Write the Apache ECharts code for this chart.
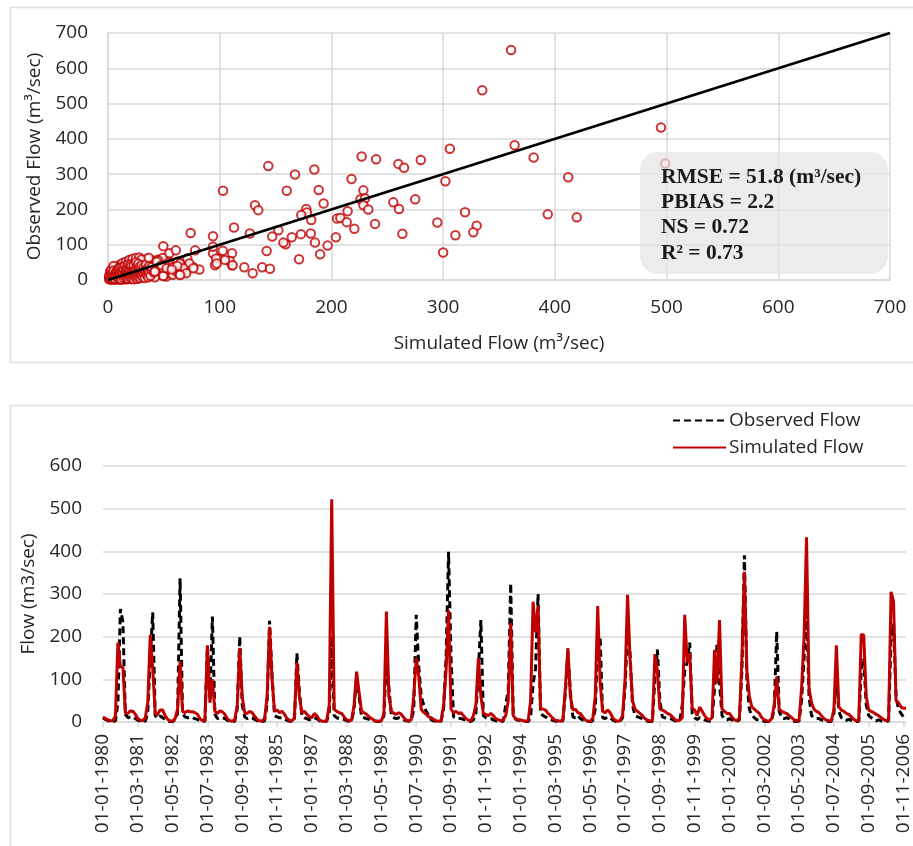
<!DOCTYPE html>
<html>
<head>
<meta charset="utf-8">
<script src="https://cdn.jsdelivr.net/npm/echarts@6/dist/echarts.min.js"></script>
<style>
  html, body { margin: 0; padding: 0; background: #ffffff; }
  #chart { width: 913px; height: 846px; }
</style>
</head>
<body>
<div id="chart"></div>
<script>
// ---------- Scatter: simulated vs observed flow (m3/sec), [simulated, observed] ----------
const scatterHigh = [
  [360.8, 652], [335, 538], [495, 432], [498.7, 330], [364, 382], [381, 347], [412, 291],
  [319.6, 192], [393.6, 186], [419.6, 178], [330, 154], [327, 135], [311, 127], [306, 372],
  [302, 280], [300, 78], [294.8, 163], [143.5, 323], [167.4, 299], [184.7, 313], [227, 350],
  [240, 342], [260, 329], [265, 318], [280, 340], [218, 286], [228.6, 254], [226, 229],
  [230, 231], [228.6, 212], [233, 200], [255.4, 220], [260.5, 201], [275, 229], [263.5, 131],
  [239, 159], [214.5, 195], [205, 174], [208, 176], [213.7, 164], [220.5, 145], [204, 121],
  [196.6, 98], [193, 217], [188.6, 255], [160, 253], [177.5, 201], [178, 191], [173, 184],
  [182, 170], [181.5, 132], [185.3, 106], [189.9, 73], [171, 59], [172.7, 130], [164.5, 121],
  [159, 101], [157, 106], [152.5, 141], [147, 123], [142, 82], [138, 36], [145, 32],
  [131.6, 212], [134.5, 198], [127, 132], [129.5, 19], [122, 36], [103, 253], [112.8, 149],
  [111, 76], [111, 42], [109, 54], [102.7, 83], [98.7, 61], [94, 124], [94, 76], [95.8, 42],
  [94, 94], [74, 133], [78, 84], [81.8, 30], [76.4, 36], [70, 28], [65, 17], [49.5, 96],
  [55, 76], [60.7, 84], [49.5, 13], [36.5, 63], [45, 55], [54, 49], [64.5, 47], [71, 61],
  [72.8, 47], [96.7, 61], [104.7, 57], [111.6, 42], [97.3, 47], [49.5, 33], [52, 39],
  [67.4, 33], [64.5, 16], [70, 19], [76.4, 33], [49.5, 11], [42, 24], [43.6, 52], [48, 42],
  [52.5, 33], [58, 36], [62, 40], [64.5, 14], [57, 30]
];
const scatterLow = [
  [2, 3], [3, 8], [4, 14], [5, 20], [5, 2], [6, 10], [6, 26], [7, 5], [7, 17], [8, 12],
  [8, 30], [9, 3], [9, 22], [10, 8], [10, 15], [10, 34], [11, 26], [11, 5], [12, 12], [12, 20],
  [12, 38], [13, 3], [13, 28], [14, 9], [14, 17], [14, 42], [15, 24], [15, 33], [15, 6], [16, 13],
  [16, 38], [17, 20], [17, 46], [17, 2], [18, 28], [18, 10], [18, 35], [19, 16], [19, 42], [20, 24],
  [20, 5], [20, 50], [21, 31], [21, 12], [22, 38], [22, 20], [22, 46], [23, 8], [23, 27], [24, 34],
  [24, 52], [24, 16], [25, 42], [25, 22], [26, 10], [26, 30], [26, 48], [27, 37], [27, 18], [28, 55],
  [28, 26], [29, 44], [29, 12], [30, 33], [30, 20], [31, 50], [31, 40], [32, 28], [33, 45], [33, 15],
  [34, 35], [35, 52], [35, 24], [36, 42], [37, 30], [38, 48], [38, 20], [40, 38], [40, 55], [42, 28],
  [43, 45], [44, 35], [46, 22], [47, 40], [48, 30], [50, 45], [52, 25], [53, 55], [56, 35], [58, 28],
  [60, 40], [62, 52], [3, 1], [4, 6], [6, 1], [8, 2], [11, 1], [14, 2], [2, 10], [3, 18],
  [4, 24], [5, 30], [7, 34], [9, 40], [11, 44], [13, 48], [16, 52], [19, 57], [22, 60], [25, 62],
  [28, 64], [1, 2], [1, 6], [2, 15], [3, 22], [6, 18], [8, 6], [10, 2], [12, 7], [16, 4],
  [19, 8], [21, 3], [24, 6], [27, 4], [30, 8], [34, 10], [37, 12], [40, 16], [44, 14], [48, 18],
  [52, 10], [55, 20], [58, 15], [62, 22], [66, 30], [68, 38], [45, 58], [49, 62], [35, 60], [30, 58],
  [42, 8], [1, 12], [2, 25], [4, 32], [6, 36], [3, 28], [5, 40],
  [2, 6], [3, 12], [4, 4], [4, 18], [5, 9], [5, 26], [6, 14], [6, 4], [7, 22], [7, 11],
  [8, 18], [8, 25], [9, 7], [9, 14], [9, 32], [10, 20], [10, 27], [11, 10], [11, 17], [11, 35],
  [12, 2], [12, 25], [13, 14], [13, 22], [13, 36], [14, 6], [14, 30], [15, 12], [15, 18], [15, 40],
  [16, 8], [16, 22], [16, 30], [17, 14], [17, 26], [17, 36], [18, 4], [18, 20], [18, 44], [19, 10],
  [19, 24], [19, 32], [20, 14], [20, 38], [20, 44], [21, 8], [21, 22], [21, 40], [22, 14], [22, 28],
  [23, 2], [23, 18], [23, 34], [23, 42], [24, 10], [24, 26], [25, 14], [25, 32], [25, 50], [26, 4],
  [26, 20], [26, 38], [27, 10], [27, 28], [27, 46], [28, 16], [28, 36], [29, 6], [29, 22], [29, 30],
  [30, 14], [30, 42], [31, 10], [31, 24], [32, 18], [32, 36], [33, 6], [33, 26], [34, 20], [34, 44],
  [35, 14], [35, 32], [36, 8], [36, 26], [37, 20], [37, 40], [38, 12], [39, 28], [39, 36], [41, 22]
];
// 1:1 reference line end points
const oneToOne = [0, 700];

// ---------- Monthly flow series, Jan 1980 - Dec 2006 (m3/sec) ----------
const startYear = 1980;
const endYear = 2006;
const observedFlow = [
  10, 6, 3, 2, 1, 3, 45, 265, 235, 18, 10, 12,      // 1980
  12, 8, 4, 2, 1, 2, 20, 150, 257, 15, 8, 14,       // 1981
  10, 6, 3, 1, 1, 5, 20, 337, 20, 12, 10, 12,       // 1982
  10, 8, 6, 3, 1, 2, 177, 55, 247, 18, 8, 10,       // 1983
  10, 8, 4, 2, 1, 2, 30, 201, 40, 12, 8, 10,        // 1984
  10, 6, 3, 1, 1, 3, 40, 237, 110, 15, 12, 10,      // 1985
  10, 7, 4, 2, 1, 3, 161, 70, 15, 10, 8, 5,         // 1986
  8, 10, 8, 3, 1, 1, 2, 20, 200, 15, 10, 8,         // 1987
  8, 6, 3, 2, 3, 30, 110, 60, 12, 10, 8, 6,         // 1988
  4, 3, 2, 1, 2, 15, 150, 80, 15, 10, 8, 10,        // 1989
  8, 5, 3, 2, 3, 30, 251, 130, 60, 40, 25, 15,      // 1990
  5, 3, 2, 1, 2, 30, 150, 399, 150, 12, 10, 8,      // 1991
  8, 6, 4, 2, 1, 5, 20, 120, 239, 15, 10, 8,        // 1992
  8, 5, 3, 2, 1, 2, 40, 75, 325, 20, 6, 4,          // 1993
  4, 3, 2, 1, 10, 90, 125, 300, 20, 15, 12, 8,      // 1994
  6, 4, 2, 2, 1, 3, 70, 165, 70, 12, 10, 15,        // 1995
  8, 5, 2, 1, 1, 3, 30, 180, 195, 10, 8, 12,        // 1996
  10, 5, 2, 1, 1, 10, 80, 212, 160, 40, 15, 12,     // 1997
  10, 8, 5, 2, 1, 2, 100, 170, 50, 12, 10, 8,       // 1998
  8, 6, 3, 2, 2, 40, 120, 140, 186, 20, 10, 6,      // 1999
  10, 8, 5, 3, 2, 5, 80, 185, 90, 15, 8, 5,         // 2000
  8, 5, 2, 1, 5, 120, 391, 100, 30, 15, 10, 5,      // 2001
  5, 3, 2, 1, 1, 5, 30, 212, 25, 10, 8, 10,         // 2002
  8, 5, 2, 1, 3, 50, 150, 265, 60, 15, 10, 8,       // 2003
  8, 5, 3, 2, 1, 2, 20, 110, 25, 10, 5, 4,          // 2004
  6, 4, 2, 1, 2, 120, 149, 40, 15, 10, 5, 3,        // 2005
  5, 3, 2, 1, 3, 200, 230, 60, 30, 20, 12, 10       // 2006
];
const simulatedFlow = [
  12, 8, 5, 3, 3, 15, 186, 130, 128, 22, 20, 26,    // 1980
  25, 18, 8, 4, 3, 10, 45, 204, 125, 20, 18, 28,    // 1981
  28, 15, 6, 3, 2, 8, 30, 141, 25, 22, 26, 24,      // 1982
  24, 22, 18, 8, 3, 3, 180, 45, 100, 25, 20, 26,    // 1983
  24, 18, 8, 3, 2, 5, 40, 174, 60, 22, 20, 25,      // 1984
  22, 14, 6, 3, 2, 8, 60, 223, 100, 25, 28, 22,     // 1985
  25, 18, 8, 4, 2, 10, 140, 60, 22, 25, 18, 12,     // 1986
  10, 20, 15, 5, 2, 2, 3, 40, 522, 30, 25, 22,      // 1987
  20, 12, 5, 3, 4, 40, 118, 70, 25, 22, 18, 12,     // 1988
  8, 4, 2, 2, 3, 20, 259, 60, 25, 20, 18, 22,       // 1989
  18, 10, 4, 3, 5, 60, 150, 108, 30, 22, 18, 12,    // 1990
  10, 6, 3, 2, 3, 40, 120, 262, 30, 22, 25, 20,     // 1991
  22, 15, 8, 4, 3, 15, 40, 150, 60, 20, 18, 15,     // 1992
  20, 15, 8, 5, 3, 5, 15, 50, 232, 15, 8, 5,        // 1993
  5, 3, 2, 2, 50, 282, 210, 272, 32, 30, 28, 20,    // 1994
  15, 8, 4, 3, 2, 5, 80, 173, 60, 28, 30, 22,       // 1995
  20, 12, 5, 2, 2, 8, 60, 272, 90, 25, 22, 28,      // 1996
  22, 10, 4, 2, 3, 15, 100, 298, 150, 50, 30, 25,   // 1997
  20, 15, 8, 4, 3, 3, 159, 120, 30, 28, 25, 20,     // 1998
  18, 12, 6, 3, 4, 10, 251, 140, 161, 32, 28, 15,   // 1999
  35, 25, 15, 8, 5, 10, 169, 90, 239, 30, 25, 20,   // 2000
  20, 12, 5, 3, 10, 150, 352, 120, 60, 35, 30, 25,  // 2001
  20, 10, 5, 3, 2, 8, 40, 106, 30, 25, 22, 20,      // 2002
  15, 10, 5, 3, 5, 80, 200, 433, 80, 45, 30, 25,    // 2003
  22, 15, 8, 4, 3, 3, 30, 180, 35, 28, 25, 20,      // 2004
  18, 12, 6, 3, 3, 205, 204, 60, 28, 25, 22, 18,    // 2005
  15, 10, 6, 3, 5, 305, 282, 50, 45, 35, 32, 32     // 2006
];

// Statistics shown in the summary box
const statLines = ['RMSE = 51.8 (m\u00B3/sec)', 'PBIAS = 2.2', 'NS = 0.72', 'R\u00B2 = 0.73'];

// Month category labels (dd-mm-yyyy)
const monthLabels = [];
for (let y = startYear; y <= endYear; y++) {
  for (let m = 1; m <= 12; m++) {
    monthLabels.push('01-' + String(m).padStart(2, '0') + '-' + y);
  }
}

const FONT = 'Open Sans';
const TXT = '#262626';
const GRID_C = '#d9d9d9';
const RED = '#c00000';

const chart = echarts.init(document.getElementById('chart'), null, { renderer: 'canvas' });

const scatterData = scatterLow.concat(scatterHigh);

const option = {
  animation: false,
  backgroundColor: '#ffffff',
  textStyle: { fontFamily: FONT, color: TXT },
  grid: [
    { left: 108, top: 33, width: 782, height: 247 },
    { left: 103, top: 466, width: 803, height: 256 }
  ],
  xAxis: [
    {
      gridIndex: 0, type: 'value', min: 0, max: 700, interval: 100,
      name: 'Simulated Flow (m\u00B3/sec)', nameLocation: 'middle', nameGap: 54,
      nameTextStyle: { fontFamily: FONT, fontSize: 19, color: TXT },
      axisLine: { show: true, lineStyle: { color: GRID_C, width: 1.5 } },
      axisTick: { show: false },
      axisLabel: { fontFamily: FONT, fontSize: 19, color: TXT, margin: 18 },
      splitLine: { show: true, lineStyle: { color: GRID_C, width: 1.5 } }
    },
    {
      gridIndex: 1, type: 'category', data: monthLabels, boundaryGap: false,
      axisLine: { show: true, lineStyle: { color: GRID_C, width: 1.5 } },
      axisTick: { show: true, interval: 13, length: 5, lineStyle: { color: GRID_C, width: 1.5 } },
      axisLabel: { interval: 13, rotate: 90, fontFamily: FONT, fontSize: 19, color: TXT, margin: 12 },
      splitLine: { show: false }
    }
  ],
  yAxis: [
    {
      gridIndex: 0, type: 'value', min: 0, max: 700, interval: 100,
      name: 'Observed Flow (m\u00B3/sec)', nameLocation: 'middle', nameGap: 58,
      nameTextStyle: { fontFamily: FONT, fontSize: 19, color: TXT },
      axisLine: { show: true, lineStyle: { color: GRID_C, width: 1.5 } },
      axisTick: { show: false },
      axisLabel: { fontFamily: FONT, fontSize: 19, color: TXT, margin: 20 },
      splitLine: { show: true, lineStyle: { color: GRID_C, width: 1.5 } }
    },
    {
      gridIndex: 1, type: 'value', min: 0, max: 600, interval: 100,
      name: 'Flow (m3/sec)', nameLocation: 'middle', nameGap: 62,
      nameTextStyle: { fontFamily: FONT, fontSize: 19, color: TXT },
      axisLine: { show: false },
      axisTick: { show: false },
      axisLabel: { fontFamily: FONT, fontSize: 19, color: TXT, margin: 21 },
      splitLine: { show: true, lineStyle: { color: GRID_C, width: 1.5 } }
    }
  ],
  legend: {
    data: ['Observed Flow', 'Simulated Flow'],
    orient: 'vertical', left: 667, top: 406,
    itemWidth: 53, itemHeight: 16, itemGap: 8,
    selectedMode: false,
    itemStyle: { opacity: 0 },
    textStyle: { fontFamily: FONT, fontSize: 19, color: TXT, padding: [0, 0, 0, -2] }
  },
  series: [
    {
      name: 'Scatter', type: 'scatter', xAxisIndex: 0, yAxisIndex: 0,
      data: scatterData, symbol: 'emptyCircle', symbolSize: 8.5,
      itemStyle: { color: RED, borderColor: RED, borderWidth: 2 }, z: 3
    },
    {
      name: '1:1', type: 'line', xAxisIndex: 0, yAxisIndex: 0,
      data: [[oneToOne[0], oneToOne[0]], [oneToOne[1], oneToOne[1]]],
      symbol: 'none', lineStyle: { color: '#000000', width: 2.8 }, z: 4
    },
    {
      name: 'Observed Flow', type: 'line', xAxisIndex: 1, yAxisIndex: 1,
      data: observedFlow, symbol: 'none', showSymbol: false,
      itemStyle: { color: '#000000' },
      lineStyle: { color: '#000000', width: 3, type: [7, 4] }, z: 3
    },
    {
      name: 'Simulated Flow', type: 'line', xAxisIndex: 1, yAxisIndex: 1,
      data: simulatedFlow, symbol: 'none', showSymbol: false,
      itemStyle: { color: RED },
      lineStyle: { color: RED, width: 3 }, z: 4
    }
  ],
  graphic: [
    { type: 'rect', shape: { x: 10.5, y: 7.5, width: 920, height: 355 },
      style: { fill: 'none', stroke: '#e0e0e0', lineWidth: 1.5 }, z: -10, silent: true },
    { type: 'rect', shape: { x: 10.5, y: 405.5, width: 920, height: 460 },
      style: { fill: 'none', stroke: '#e0e0e0', lineWidth: 1.5 }, z: -10, silent: true },
    { type: 'rect', shape: { x: 640, y: 152, width: 248, height: 122, r: 18 },
      style: { fill: 'rgba(228,228,228,0.72)' }, z: 100, silent: true },
    {
      type: 'group', left: 661, top: 166, z: 110, silent: true,
      children: statLines.map((t, i) => ({
        type: 'text', x: 0, y: i * 25.4, z: 110,
        style: { text: t, font: 'bold 21.5px "Liberation Serif"', fill: '#1a1a1a' }
      }))
    }
  ]
};

chart.setOption(option);
</script>
</body>
</html>
